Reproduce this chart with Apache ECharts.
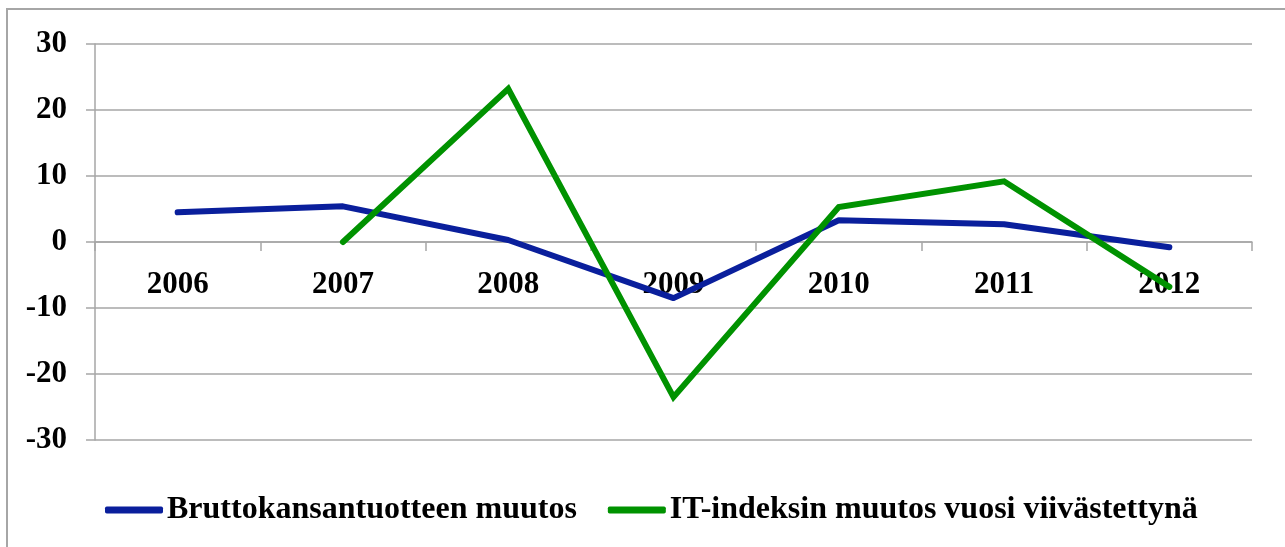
<!DOCTYPE html>
<html>
<head>
<meta charset="utf-8">
<script src="https://cdn.jsdelivr.net/npm/echarts@6/dist/echarts.min.js"></script>
<style>
  html, body { margin: 0; padding: 0; background: #fff; }
  #chart { width: 1285px; height: 547px; }
</style>
</head>
<body>
<div id="chart"></div>
<script>
const years = ['2006', '2007', '2008', '2009', '2010', '2011', '2012'];
const bktMuutos = [4.5, 5.4, 0.3, -8.5, 3.3, 2.7, -0.8];
const itMuutos = ['-', 0, 23.2, -23.5, 5.3, 9.2, -6.8];
const seriesNames = ['Bruttokansantuotteen muutos', 'IT-indeksin muutos vuosi viivästettynä'];

const font = "'Liberation Serif', serif";
const gray = '#a6a6a6';

let chart = echarts.init(document.getElementById('chart'));
chart.setOption({
  animation: false,
  textStyle: { fontFamily: font },
  graphic: [{
    type: 'rect',
    shape: { x: 7, y: 9, width: 1400, height: 600 },
    style: { fill: 'none', stroke: gray, lineWidth: 2 },
    silent: true
  }],
  grid: {
    left: 95,
    right: 33,
    top: 44,
    bottom: 107
  },
  legend: {
    left: 100,
    top: 489,
    itemWidth: 58,
    itemHeight: 7,
    itemGap: 31,
    icon: 'roundRect',
    textStyle: {
      fontFamily: font,
      fontWeight: 'bold',
      fontSize: 32,
      color: '#000',
      padding: [0, 0, 0, -1]
    },
    data: seriesNames
  },
  xAxis: {
    type: 'category',
    data: years,
    boundaryGap: true,
    axisLine: { onZero: true, lineStyle: { color: gray, width: 1.5 } },
    axisTick: { show: true, length: 9, lineStyle: { color: gray, width: 1.5 } },
    axisLabel: {
      margin: -171,  // labels sit just under the zero line
      fontFamily: font,
      fontWeight: 'bold',
      fontSize: 31,
      color: '#000'
    }
  },
  yAxis: {
    type: 'value',
    min: -30,
    max: 30,
    interval: 10,
    axisLine: { show: true, lineStyle: { color: gray, width: 1.5 } },
    axisTick: { show: true, length: 9, lineStyle: { color: gray, width: 1.5 } },
    splitLine: { show: true, lineStyle: { color: gray, width: 1.5 } },
    axisLabel: {
      margin: 28,
      fontFamily: font,
      fontWeight: 'bold',
      fontSize: 31,
      color: '#000'
    }
  },
  series: [
    {
      name: seriesNames[0],
      type: 'line',
      data: bktMuutos,
      symbol: 'none',
      color: '#0a1f9c',
      lineStyle: { width: 6, cap: 'round', join: 'round' }
    },
    {
      name: seriesNames[1],
      type: 'line',
      data: itMuutos,
      symbol: 'none',
      color: '#009200',
      lineStyle: { width: 6, cap: 'round', join: 'miter' }
    }
  ]
});
</script>
</body>
</html>
